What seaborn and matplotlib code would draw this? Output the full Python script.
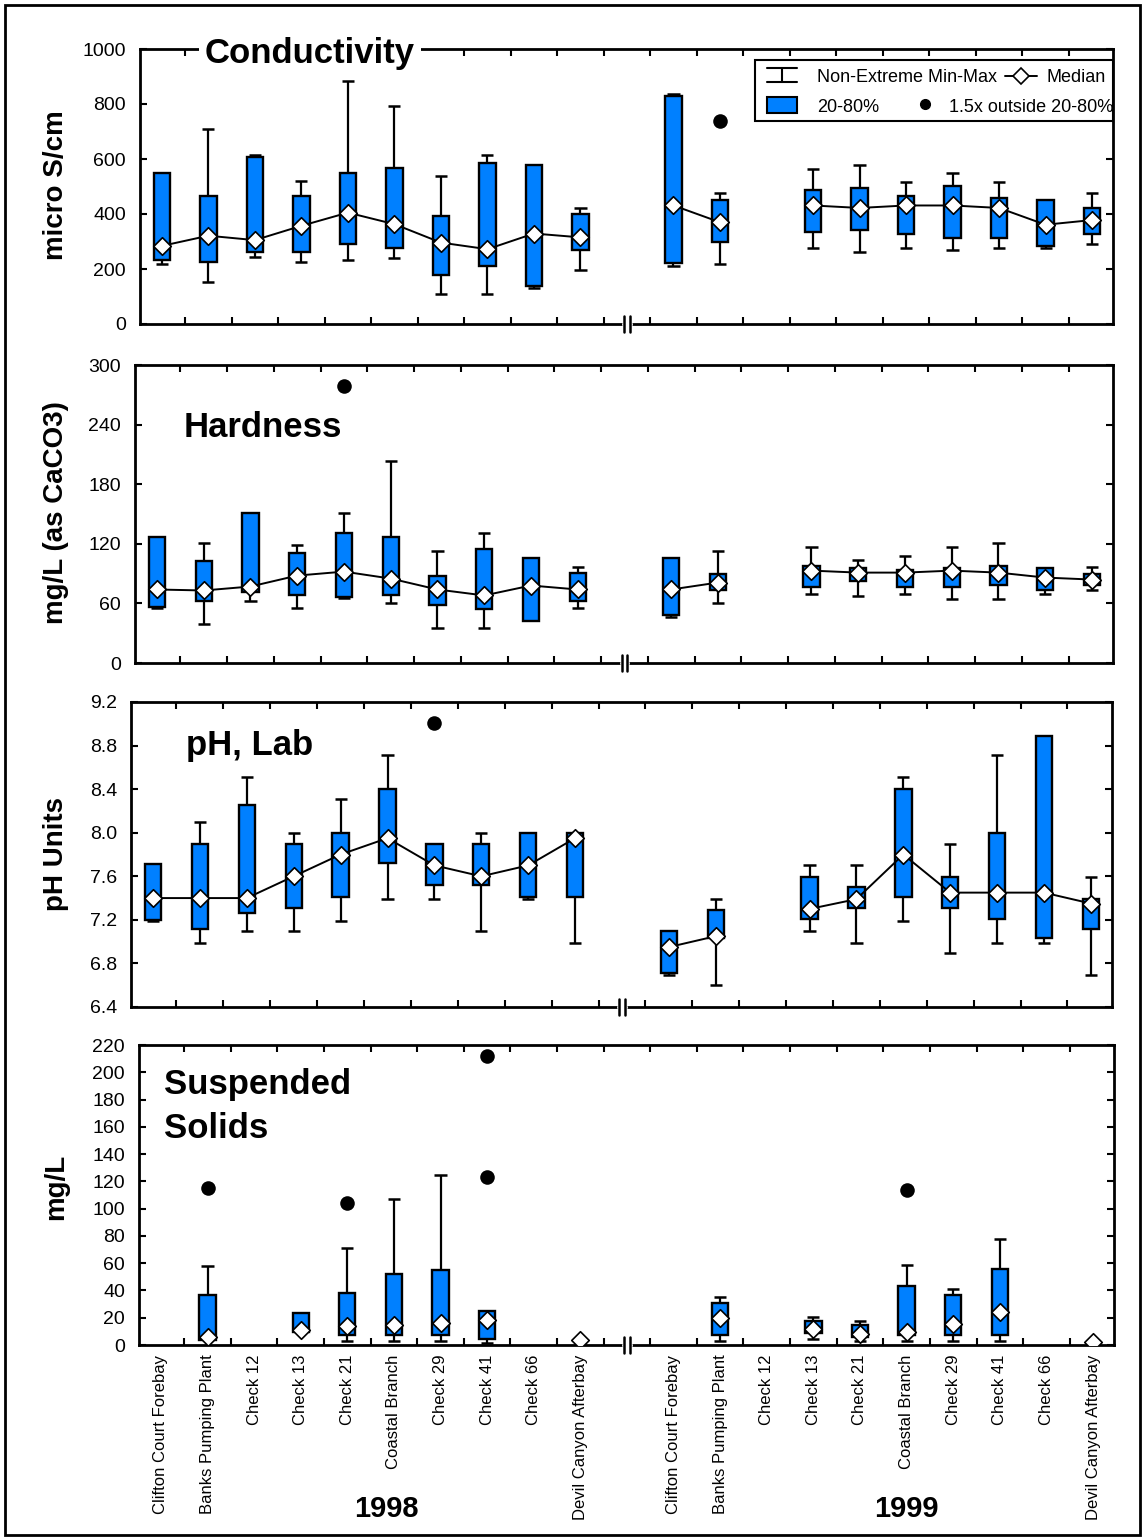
import numpy as np
import matplotlib
matplotlib.use("Agg")
import matplotlib.pyplot as plt
from matplotlib.patches import Rectangle
from matplotlib.ticker import FormatStrFormatter
import seaborn as sns

nan = np.nan

# Stations, listed once per year (1998 block, then 1999 block)
stations = ["Clifton Court Forebay", "Banks Pumping Plant", "Check 12", "Check 13",
            "Check 21", "Coastal Branch", "Check 29", "Check 41", "Check 66",
            "Devil Canyon Afterbay"]
years = ["1998", "1999"]

# Conductivity (micro S/cm): non-extreme min, 20th pct, median, 80th pct, non-extreme max
cond_lo  = [217, 152, 242, 225, 232, 239, 108, 108, 130, 196,
            210, 217, nan, 277, 261, 277, 269, 277, 277, 290]
cond_q20 = [232, 225, 262, 262, 290, 277, 180, 210, 137, 269,
            223, 297, nan, 335, 343, 327, 313, 313, 282, 327]
cond_med = [284, 321, 305, 357, 405, 363, 296, 272, 329, 315,
            431, 370, nan, 431, 422, 431, 431, 422, 361, 378]
cond_q80 = [549, 466, 607, 466, 549, 569, 393, 585, 578, 400,
            829, 452, nan, 488, 496, 466, 503, 459, 452, 422]
cond_hi  = [549, 709, 614, 519, 885, 791, 540, 614, 578, 423,
            835, 475, nan, 562, 578, 518, 548, 518, 452, 475]
cond_out_idx = [11]
cond_out_val = [737]

# Hardness, mg/L as CaCO3
hard_lo  = [55, 39, 62, 55, 65, 60, 35, 35, 42, 55,
            46, 60, nan, 69, 67, 69, 64, 64, 69, 73]
hard_q20 = [56, 62, 71, 68, 66, 68, 58, 54, 42, 62,
            48, 73, nan, 77, 83, 77, 77, 79, 73, 79]
hard_med = [74, 73, 77, 88, 92, 85, 74, 68, 78, 74,
            74, 81, nan, 93, 91, 91, 93, 91, 86, 84]
hard_q80 = [127, 103, 151, 111, 131, 127, 88, 115, 106, 91,
            106, 90, nan, 98, 96, 94, 96, 98, 96, 90]
hard_hi  = [127, 121, 151, 119, 151, 203, 113, 131, 106, 97,
            106, 113, nan, 117, 104, 108, 117, 121, 96, 97]
hard_out_idx = [4]
hard_out_val = [279]

# Laboratory pH
ph_lo  = [7.19, 6.99, 7.10, 7.10, 7.19, 7.39, 7.39, 7.10, 7.39, 6.99,
          6.69, 6.60, nan, 7.10, 6.99, 7.19, 6.90, 6.99, 6.99, 6.69]
ph_q20 = [7.20, 7.12, 7.26, 7.31, 7.41, 7.72, 7.52, 7.52, 7.41, 7.41,
          6.71, 7.03, nan, 7.21, 7.31, 7.41, 7.31, 7.21, 7.03, 7.12]
ph_med = [7.40, 7.40, 7.40, 7.60, 7.80, 7.95, 7.70, 7.60, 7.70, 7.95,
          6.95, 7.05, nan, 7.30, 7.39, 7.80, 7.45, 7.45, 7.45, 7.35]
ph_q80 = [7.71, 7.90, 8.25, 7.90, 8.00, 8.40, 7.90, 7.90, 8.00, 8.00,
          7.10, 7.29, nan, 7.59, 7.50, 8.40, 7.59, 8.00, 8.89, 7.39]
ph_hi  = [7.71, 8.10, 8.51, 8.00, 8.31, 8.71, 7.90, 8.00, 8.00, 8.00,
          7.10, 7.39, nan, 7.70, 7.70, 8.51, 7.90, 8.71, 8.89, 7.59]
ph_out_idx = [6]
ph_out_val = [9.01]

# Suspended solids, mg/L
ss_lo  = [nan, 4, nan, 9.7, 3, 3, 3, 1.5, nan, nan,
          nan, 3, nan, 4.4, 3, 3, 3, 3, nan, nan]
ss_q20 = [nan, 4, nan, 9.7, 7.7, 7.7, 7.7, 4.5, nan, nan,
          nan, 7.6, nan, 8.9, 5.9, 7.6, 7.6, 7.6, nan, nan]
ss_med = [nan, 6, nan, 11, 14, 15, 16, 18, nan, 4,
          nan, 19.7, nan, 11.6, 7.9, 9.6, 15.3, 24, nan, 2.2]
ss_q80 = [nan, 37, nan, 23.5, 38, 52, 55, 25, nan, nan,
          nan, 31, nan, 17.7, 14.5, 43, 36.7, 56, nan, nan]
ss_hi  = [nan, 58, nan, 23.5, 71, 107, 125, 25, nan, nan,
          nan, 35.5, nan, 20.7, 17.7, 59, 41.4, 78, nan, nan]
ss_out_idx = [1, 4, 7, 7, 15]
ss_out_val = [115, 104, 212, 123, 113.5]

# ---------------------------------------------------------------- style
sns.set_style("white")
plt.rcParams["font.family"] = ["Liberation Sans", "DejaVu Sans"]
for key in ("text.color", "axes.labelcolor", "xtick.color", "ytick.color",
            "axes.edgecolor"):
    plt.rcParams[key] = "black"

BLUE = "#0080ff"
W, H = 1143, 1539
XPOS = np.array([i for i in range(10)] + [i + 11 for i in range(10)], float)
BOX_W = 0.35
CAP = 0.13


def fx(x):
    return x / W


def fy(y):
    return 1 - y / H


def add_axes_px(left, top, right, bottom):
    return fig.add_axes([fx(left), fy(bottom), (right - left) / W, (bottom - top) / H])


def draw_panel(ax, lo, q20, med, q80, hi, out_idx, out_val, connect=True):
    lo, q20, med, q80, hi = (np.asarray(a, float) for a in (lo, q20, med, q80, hi))

    # whiskers with caps
    for xi, a, b, c, d in zip(XPOS, lo, q20, q80, hi):
        if np.isnan(b):
            continue
        if d > c:
            ax.vlines(xi, c, d, color="k", lw=1.6, zorder=2)
            ax.hlines(d, xi - CAP, xi + CAP, color="k", lw=1.8, zorder=2)
        if a < b:
            ax.vlines(xi, a, b, color="k", lw=1.6, zorder=2)
            ax.hlines(a, xi - CAP, xi + CAP, color="k", lw=1.8, zorder=2)

    # 20-80% boxes
    ok = ~np.isnan(q20)
    ax.bar(XPOS[ok], (q80 - q20)[ok], bottom=q20[ok], width=BOX_W, color=BLUE,
           edgecolor="k", linewidth=1.7, zorder=3)

    # median line, one run per year
    if connect:
        ax.plot(XPOS[:10], med[:10], color="k", lw=1.4, zorder=4)
        ax.plot(XPOS[10:], med[10:], color="k", lw=1.4, zorder=4)

    okm = ~np.isnan(med)
    sns.scatterplot(x=XPOS[okm], y=med[okm], marker="D", s=80, color="white",
                    edgecolor="k", linewidth=1.2, zorder=5, ax=ax, legend=False)

    if out_idx:
        sns.scatterplot(x=XPOS[out_idx], y=out_val, marker="o", s=110, color="k",
                        linewidth=0, zorder=5, ax=ax, legend=False)


def style_axes(ax, ylim, yticks, fmt=None, height_px=300):
    ax.set_xlim(-0.47, 20.45)
    ax.set_ylim(*ylim)
    ax.set_yticks(yticks)
    if fmt:
        ax.yaxis.set_major_formatter(FormatStrFormatter(fmt))
    ax.set_xticks(XPOS)
    ax.set_xticklabels([])
    ax.set_xticks(np.r_[np.arange(0.5, 10), np.arange(10.5, 20)], minor=True)
    ax.tick_params(axis="x", which="major", length=0, labelbottom=False)
    ax.tick_params(axis="x", which="minor", direction="in", length=5, width=1.5,
                   top=True, bottom=True, color="k")
    ax.tick_params(axis="y", which="major", direction="in", length=5, width=1.5,
                   left=True, right=True, labelsize=14, pad=10, colors="k")
    ax.set_xlabel("")
    ax.set_ylabel("")
    for sp in ax.spines.values():
        sp.set_linewidth(2.0)
        sp.set_color("k")
    # axis break marks on the bottom spine
    tr = ax.get_xaxis_transform()
    d = 8 / height_px
    ax.plot([9.94, 10.06], [0, 0], transform=tr, color="white", lw=3.5,
            clip_on=False, zorder=10)
    for xb in (9.945, 10.055):
        ax.plot([xb, xb], [-d, d], transform=tr, color="k", lw=1.8,
                clip_on=False, zorder=11)


fig = plt.figure(figsize=(W / 100, H / 100), dpi=100)

ax1 = add_axes_px(140, 49, 1113, 324)
ax2 = add_axes_px(135, 365, 1113, 663)
ax3 = add_axes_px(131, 702, 1112, 1007)
ax4 = add_axes_px(139, 1045, 1114, 1345)

draw_panel(ax1, cond_lo, cond_q20, cond_med, cond_q80, cond_hi, cond_out_idx, cond_out_val)
draw_panel(ax2, hard_lo, hard_q20, hard_med, hard_q80, hard_hi, hard_out_idx, hard_out_val)
draw_panel(ax3, ph_lo, ph_q20, ph_med, ph_q80, ph_hi, ph_out_idx, ph_out_val)
draw_panel(ax4, ss_lo, ss_q20, ss_med, ss_q80, ss_hi, ss_out_idx, ss_out_val, connect=False)

style_axes(ax1, (0, 1000), np.arange(0, 1001, 200), height_px=275)
style_axes(ax2, (0, 300), np.arange(0, 301, 60), height_px=298)
style_axes(ax3, (6.4, 9.2), np.round(np.arange(6.4, 9.21, 0.4), 1), fmt="%.1f", height_px=305)
style_axes(ax4, (0, 220), np.arange(0, 221, 20), height_px=300)

# station names under the bottom panel
ax4.set_xticks(XPOS)
ax4.set_xticklabels(stations * 2, rotation=90, fontsize=12, color="k")
ax4.tick_params(axis="x", which="major", labelbottom=True, pad=7, length=0)
for lbl in ax4.get_xticklabels():
    lbl.set_verticalalignment("top")

# y-axis titles
for text, ycen in [("micro S/cm", 185), ("mg/L (as CaCO3)", 513),
                   ("pH Units", 854), ("mg/L", 1187)]:
    fig.text(fx(56), fy(ycen), text, rotation=90, ha="center", va="center",
             fontsize=20, fontweight="bold", color="k")

# panel titles
fig.text(fx(310), fy(63), "Conductivity", ha="center", va="baseline", fontsize=25,
         fontweight="bold", color="k", zorder=20,
         bbox=dict(facecolor="white", edgecolor="none", pad=4))
for text, x, yb in [("Hardness", 184, 437), ("pH, Lab", 186, 755),
                    ("Suspended", 164, 1094), ("Solids", 164, 1138)]:
    fig.text(fx(x), fy(yb), text, ha="left", va="baseline", fontsize=25,
             fontweight="bold", color="k")

# year labels
fig.text(fx(386), fy(1517), years[0], ha="center", va="baseline", fontsize=21,
         fontweight="bold", color="k")
fig.text(fx(906), fy(1517), years[1], ha="center", va="baseline", fontsize=21,
         fontweight="bold", color="k")

# legend block inside the conductivity panel
tf = fig.transFigure
ax1.add_patch(Rectangle((fx(755), fy(121)), (1113 - 755) / W, (121 - 60) / H,
                        transform=tf, facecolor="white", edgecolor="k", lw=1.5,
                        zorder=12, clip_on=False))
# whisker glyph
ax1.plot([fx(767), fx(797)], [fy(68), fy(68)], transform=tf, color="k", lw=1.5, zorder=13)
ax1.plot([fx(767), fx(797)], [fy(82), fy(82)], transform=tf, color="k", lw=1.5, zorder=13)
ax1.plot([fx(782), fx(782)], [fy(68), fy(82)], transform=tf, color="k", lw=1.5, zorder=13)
ax1.text(fx(817), fy(77), "Non-Extreme Min-Max", transform=tf, ha="left", va="center",
         fontsize=13, color="k", zorder=13)
# median glyph
ax1.plot([fx(1005), fx(1037)], [fy(76), fy(76)], transform=tf, color="k", lw=1.4, zorder=13)
ax1.plot([fx(1021)], [fy(76)], transform=tf, marker="D", ms=8, mfc="white", mec="k",
         mew=1.2, zorder=14)
ax1.text(fx(1046), fy(77), "Median", transform=tf, ha="left", va="center",
         fontsize=13, color="k", zorder=13)
# box glyph
ax1.add_patch(Rectangle((fx(767), fy(113)), 30 / W, 16 / H, transform=tf,
                        facecolor=BLUE, edgecolor="k", lw=1.5, zorder=13, clip_on=False))
ax1.text(fx(817), fy(107), "20-80%", transform=tf, ha="left", va="center",
         fontsize=13, color="k", zorder=13)
# outlier glyph
ax1.plot([fx(925)], [fy(104)], transform=tf, marker="o", ms=7, color="k", zorder=13)
ax1.text(fx(949), fy(107), "1.5x outside 20-80%", transform=tf, ha="left", va="center",
         fontsize=13, color="k", zorder=13, clip_on=True)

# outer frame
fig.add_artist(Rectangle((fx(5), fy(1535)), (1140 - 5) / W, (1535 - 5) / H,
                         transform=tf, fill=False, edgecolor="k", lw=2))

fig.savefig("out.png", dpi=100)
